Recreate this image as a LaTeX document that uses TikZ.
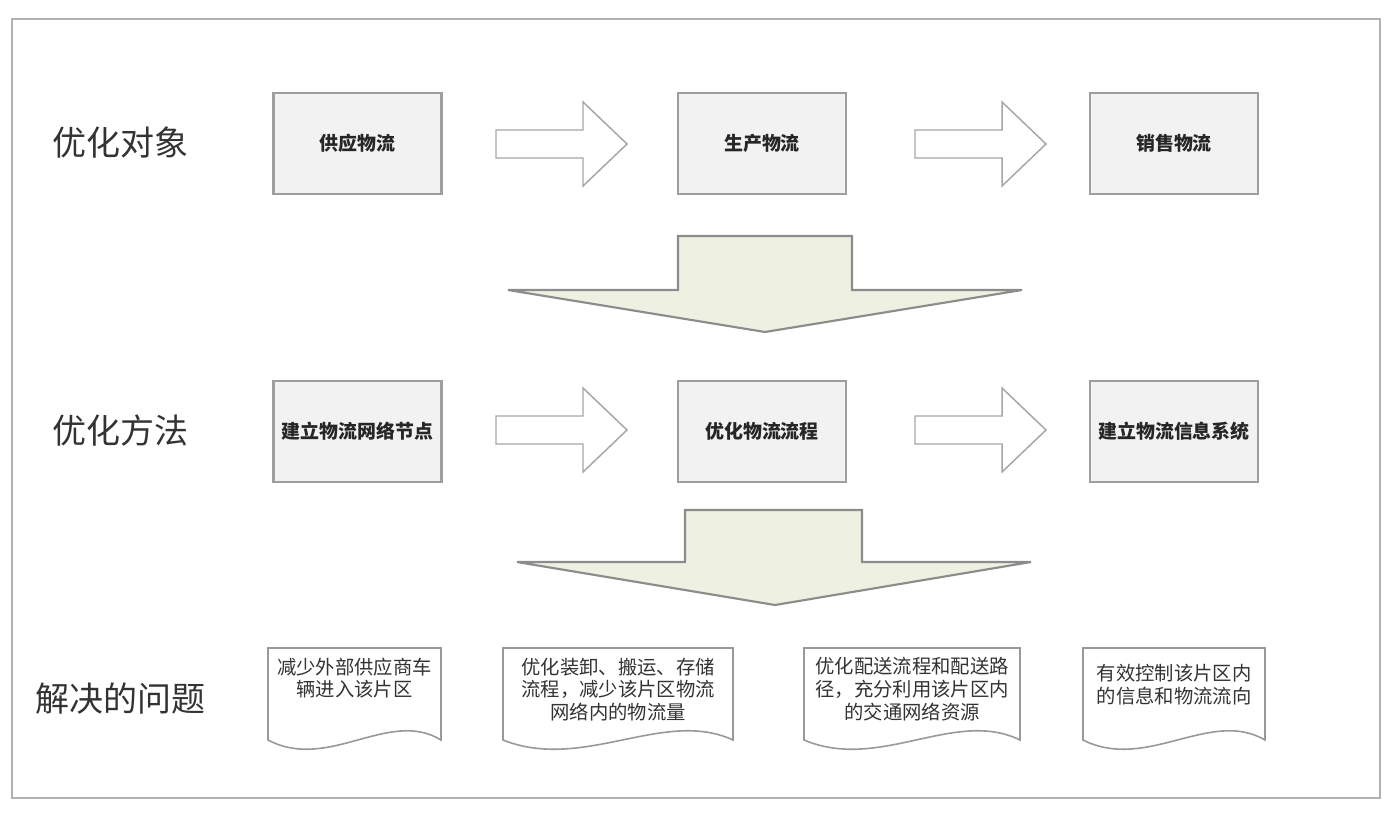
\documentclass[tikz,border=0pt]{standalone}
\usepackage{fontspec}
\newfontfamily\cjk{Noto Sans CJK SC}
\begin{document}
\begin{tikzpicture}[x=0.75pt,y=-0.75pt,
  edgec/.style={draw=black!38,line width=1.6pt},
  flowbox/.style={edgec,fill=black!5,minimum width=126pt,minimum height=76pt,inner sep=0pt,font=\cjk\bfseries\fontsize{14.2}{16}\selectfont,text=black!85},
  rowlabel/.style={font=\cjk\fontsize{25.5}{28}\selectfont,text=black!80,anchor=center},
  rarrow/.style={draw=black!35,line width=1.1pt,fill=white,line join=miter},
  darrow/.style={draw=black!45,line width=1.6pt,fill={rgb,255:red,238;green,240;blue,226}},
  docshape/.style={draw=black!40,line width=1.2pt,fill=white},
  doctext/.style={font=\cjk\fontsize{14.5}{17}\selectfont,text=black!80,align=center,anchor=north}
]
\useasboundingbox (0,0) rectangle (1394,817);
\draw[draw=black!30,line width=1.4pt] (12,19) rectangle (1380,798);

% row labels
\node[rowlabel] (l1) at (120,143) {优化对象};
\node[rowlabel] (l2) at (120,431) {优化方法};
\node[rowlabel] (l3) at (120,699) {解决的问题};

% row 1 boxes
\node[flowbox] (a1) at (357.5,143.5) {供应物流};
\node[flowbox] (a2) at (762,143.5) {生产物流};
\node[flowbox] (a3) at (1174,143.5) {销售物流};
% row 2 boxes
\node[flowbox] (b1) at (357.5,431.5) {建立物流网络节点};
\node[flowbox] (b2) at (762,431.5) {优化物流流程};
\node[flowbox] (b3) at (1174,431.5) {建立物流信息系统};

% block arrows
\foreach \x/\y in {496/144, 915/144, 496/430, 915/430}{
  \draw[rarrow] (\x,\y-14) -- (\x+87,\y-14) -- (\x+87,\y-42) -- (\x+131,\y) -- (\x+87,\y+42) -- (\x+87,\y+14) -- (\x,\y+14) -- cycle;
}

% big down arrows
\draw[darrow] (678,236) -- (852,236) -- (852,290) -- (1022,290) -- (765,332) -- (508,290) -- (678,290) -- cycle;
\draw[darrow] (685,510) -- (862,510) -- (862,562) -- (1031,562) -- (775,605) -- (517,562) -- (685,562) -- cycle;

% document shapes
\foreach \xa/\xb/\n in {268/441/d1, 503/733/d2, 804/1020/d3, 1083/1265/d4}{
  \coordinate (\n) at ({(\xa+\xb)/2},653);
  \draw[docshape] (\xa,648) -- (\xb,648) -- (\xb,740)
    .. controls ({\xb-0.3*(\xb-\xa)},708) and ({\xa+0.35*(\xb-\xa)},772) .. (\xa,740) -- cycle;
}
\node[doctext] at (d1) {减少外部供应商车\\辆进入该片区};
\node[doctext] at (d2) {优化装卸、搬运、存储\\流程，减少该片区物流\\网络内的物流量};
\node[doctext] at (d3) {优化配送流程和配送路\\径，充分利用该片区内\\的交通网络资源};
\node[doctext,yshift=-5pt] at (d4) {有效控制该片区内\\的信息和物流流向};
\end{tikzpicture}
\end{document}
